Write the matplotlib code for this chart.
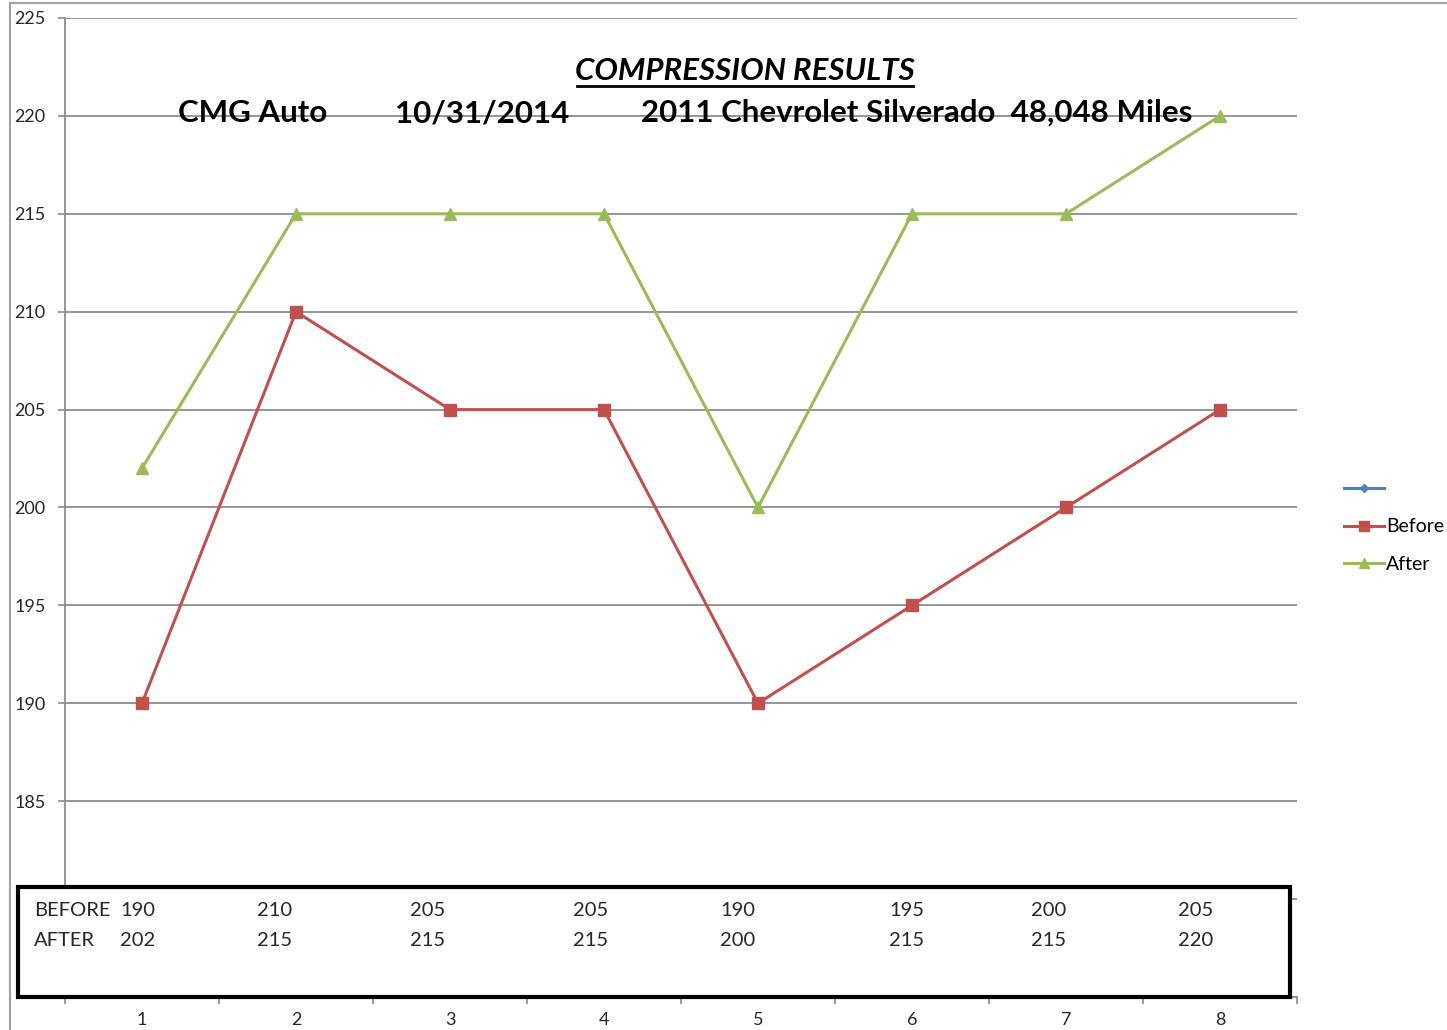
import matplotlib
matplotlib.use("Agg")
import matplotlib.pyplot as plt
from matplotlib.patches import Rectangle
from matplotlib.lines import Line2D
import numpy as np

cylinders = [1, 2, 3, 4, 5, 6, 7, 8]
before = [190, 210, 205, 205, 190, 195, 200, 205]
after = [202, 215, 215, 215, 200, 215, 215, 220]
y_ticks = [175, 180, 185, 190, 195, 200, 205, 210, 215, 220, 225]
y_labels = ["", "", "185", "190", "195", "200", "205", "210", "215", "220", "225"]

FONT = ["Lato", "DejaVu Sans"]
plt.rcParams['font.family'] = FONT

W, H = 1447, 1030
fig = plt.figure(figsize=(W / 100, H / 100), dpi=100)
fig.patch.set_facecolor("white")

def fx(px):
    return px / W

def fy(py):
    return 1 - py / H

ax = fig.add_axes([fx(65), fy(997), fx(1297) - fx(65), fy(18) - fy(997)])
ax.set_xlim(0.5, 8.5)
ax.set_ylim(175, 225)

grid_c = "#8c8c8c"
ax.set_yticks(y_ticks)
ax.set_yticklabels(y_labels, fontsize=13, color="#262626")
ax.yaxis.grid(True, color=grid_c, linewidth=1.3)
ax.set_axisbelow(True)
ax.tick_params(axis="y", length=5, width=1.2, color=grid_c, pad=9)

ax.set_xticks(np.arange(0.5, 9.0, 1.0))
ax.set_xticklabels([])
ax.set_xticks(cylinders, minor=True)
ax.set_xticklabels([str(c) for c in cylinders], minor=True, fontsize=13, color="#262626")
ax.tick_params(axis="x", which="major", length=5, width=1.2, color=grid_c)
ax.tick_params(axis="x", which="minor", length=0, pad=11)

for s in ["top", "right"]:
    ax.spines[s].set_visible(False)
for s in ["left", "bottom"]:
    ax.spines[s].set_color(grid_c)
    ax.spines[s].set_linewidth(1.3)

blue, = ax.plot([], [], color="#4F81BD", marker="D", markersize=5, linewidth=2.2, label=" ")
red, = ax.plot(cylinders, before, color="#C0504D", marker="s", markersize=9,
               linewidth=2.2, label="Before")
green, = ax.plot(cylinders, after, color="#9BBB59", marker="^", markersize=9,
                 linewidth=2.2, label="After")

leg = fig.legend(handles=[blue, red, green], labels=["", "Before", "After"],
                 loc="center left", bbox_to_anchor=(fx(1326), fy(527)),
                 frameon=False, fontsize=14, handlelength=2.1, handletextpad=0.1,
                 labelspacing=1.05, markerscale=0.8)

# Title texts
fig.text(fx(745), fy(71), "COMPRESSION RESULTS", ha="center", va="center",
         fontsize=22.5, fontweight="bold", style="italic", color="black")
fig.add_artist(Line2D([fx(577), fx(913)], [fy(86), fy(86)], color="black", linewidth=2))
fig.text(fx(178), fy(113), "CMG Auto", ha="left", va="center", fontsize=22.5,
         fontweight="bold", color="black")
fig.text(fx(395), fy(113), "10/31/2014", ha="left", va="center", fontsize=22.5,
         fontweight="bold", color="black")
fig.text(fx(641), fy(113), "2011 Chevrolet Silverado  48,048 Miles", ha="left",
         va="center", fontsize=22.5, fontweight="bold", color="black")

# Data table box
box = Rectangle((fx(18), fy(997)), fx(1290) - fx(18), fy(887) - fy(997),
                transform=fig.transFigure, facecolor="white", edgecolor="black",
                linewidth=3, zorder=5)
fig.add_artist(box)
value_x = [120, 257, 410, 573, 720, 889, 1031, 1178]
fig.text(fx(34), fy(911), "BEFORE", ha="left", va="center", fontsize=14.5,
         color="#262626", zorder=6)
fig.text(fx(34), fy(941), "AFTER", ha="left", va="center", fontsize=14.5,
         color="#262626", zorder=6)
for px, b, a in zip(value_x, before, after):
    fig.text(fx(px), fy(911), str(b), ha="left", va="center", fontsize=14.5,
             color="#262626", zorder=6)
    fig.text(fx(px), fy(941), str(a), ha="left", va="center", fontsize=14.5,
             color="#262626", zorder=6)

# Outer chart-area border (left and top)
fig.add_artist(Line2D([fx(10), fx(10)], [fy(3), 0], color="#a0a0a0", linewidth=1.5))
fig.add_artist(Line2D([fx(10), 1], [fy(3), fy(3)], color="#a0a0a0", linewidth=1.5))

fig.savefig("out.png", dpi=100, facecolor="white")
